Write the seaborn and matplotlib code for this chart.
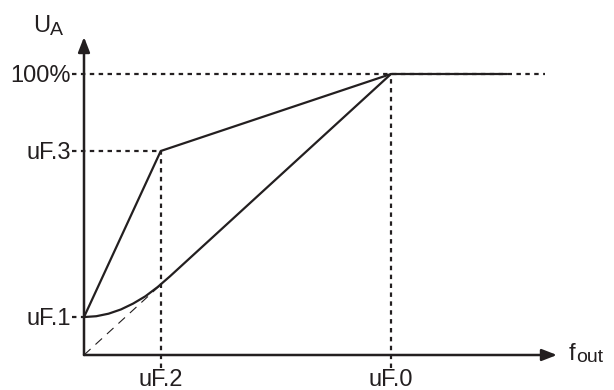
import matplotlib
matplotlib.use("Agg")
import matplotlib.pyplot as plt
import seaborn as sns
import pandas as pd

# ---- data (in units: uF.0 = 1 on x, 100% = 1 on y) ----
x_ticks = [0.25, 1.0]
x_tick_labels = ["uF.2", "uF.0"]
y_ticks = [0.135, 0.726, 1.0]
y_tick_labels = ["uF.1", "uF.3", "100%"]

# linear (two-segment) characteristic
lin_x = [0.0, 0.25, 1.0, 1.378]
lin_y = [0.135, 0.726, 1.0, 1.0]
# quadratic characteristic
curve_x = [0.0, 0.04, 0.08, 0.12, 0.16, 0.20, 0.24, 0.28, 1.0]
curve_y = [0.135, 0.138, 0.147, 0.162, 0.183, 0.209, 0.242, 0.280, 1.0]
# proportional reference line (dashed)
ref_x = [0.0, 0.26]
ref_y = [0.0, 0.26]

sns.set_theme(style="white")
plt.rcParams['font.family'] = ['Liberation Sans', 'DejaVu Sans']

C = "#231f20"
PX0, PY0, SX, SY = 84, 355, 307, 281

def dx(px):
    return (px - PX0) / SX

def dy(py):
    return (PY0 - py) / SY

fig = plt.figure(figsize=(6.14, 3.90), dpi=100)
ax = fig.add_axes([0, 0, 1, 1])
ax.set_xlim(dx(0), dx(614))
ax.set_ylim(dy(390), dy(0))
ax.axis("off")

dash = (0, (2, 2))
# guide dashed lines
ax.plot([dx(72), dx(545)], [1.0, 1.0], color=C, lw=1.6, ls=dash)
ax.plot([dx(72), x_ticks[0]], [y_ticks[1], y_ticks[1]], color=C, lw=1.6, ls=dash)
ax.plot([dx(72), 0], [y_ticks[0], y_ticks[0]], color=C, lw=1.6, ls=dash)
ax.plot([x_ticks[0], x_ticks[0]], [dy(368), y_ticks[1]], color=C, lw=1.6, ls=dash)
ax.plot([x_ticks[1], x_ticks[1]], [dy(368), 1.0], color=C, lw=1.6, ls=dash)

# reference diagonal
ax.plot(ref_x, ref_y, color=C, lw=0.8, ls=(0, (8, 6)))

df_lin = pd.DataFrame({"x": lin_x, "y": lin_y})
df_cur = pd.DataFrame({"x": curve_x, "y": curve_y})
sns.lineplot(data=df_lin, x="x", y="y", sort=False, color=C, lw=1.6, ax=ax)
sns.lineplot(data=df_cur, x="x", y="y", sort=False, color=C, lw=1.6, ax=ax)

# axes with arrows
arrow = dict(arrowstyle="-|>,head_length=0.9,head_width=0.35", color=C, lw=1.8,
             shrinkA=0, shrinkB=0, mutation_scale=10)
ax.annotate("", xy=(dx(557), 0), xytext=(0, 0), arrowprops=arrow)
ax.annotate("", xy=(0, dy(37)), xytext=(0, 0), arrowprops=arrow)

fs = 17
for v, lab in zip(y_ticks, y_tick_labels):
    ax.text(dx(71), v - 8 / SY, lab, ha="right", va="baseline",
            fontsize=fs, color=C)
for v, lab in zip(x_ticks, x_tick_labels):
    ax.text(v, dy(386), lab, ha="center", va="baseline", fontsize=fs, color=C)

ax.text(dx(33), dy(32), "U", ha="left", va="baseline", fontsize=fs, color=C)
ax.text(dx(50), dy(35), "A", ha="left", va="baseline", fontsize=14, color=C)
ax.text(dx(569), dy(360), "f", ha="left", va="baseline", fontsize=17, color=C)
ax.text(dx(576), dy(362), "out", ha="left", va="baseline", fontsize=14, color=C)

fig.savefig("out.png", dpi=100)
